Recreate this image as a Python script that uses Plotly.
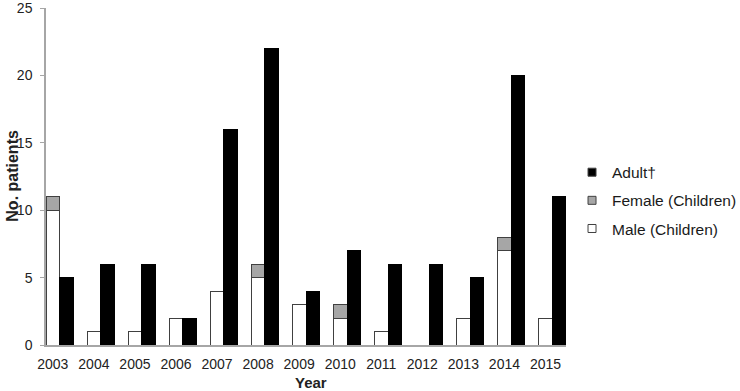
import plotly.graph_objects as go

years = ["2003", "2004", "2005", "2006", "2007", "2008", "2009", "2010", "2011", "2012", "2013", "2014", "2015"]
male_children = [10, 1, 1, 2, 4, 5, 3, 2, 1, 0, 2, 7, 2]
female_children = [1, 0, 0, 0, 0, 1, 0, 1, 0, 0, 0, 1, 0]
adult = [5, 6, 6, 2, 16, 22, 4, 7, 6, 6, 5, 20, 11]
y_ticks = [0, 5, 10, 15, 20, 25]

FONT = "Liberation Sans, Arial, sans-serif"
BW = 1 / 3
idx = list(range(len(years)))
idx_adult = [i + BW for i in idx]

GRAY = "#a6a6a6"
fig = go.Figure()
fig.add_trace(go.Bar(x=idx, y=male_children, width=BW, name="Male (Children)",
                     marker=dict(color="white", line=dict(color="#404040", width=1)),
                     showlegend=False))
fig.add_trace(go.Bar(x=idx, y=female_children, width=BW, name="Female (Children)",
                     marker=dict(color=GRAY, line=dict(color="#404040", width=1)),
                     showlegend=False))
fig.add_trace(go.Bar(x=idx_adult, y=adult, width=BW, name="Adult\u2020",
                     marker=dict(color="black", line=dict(color="black", width=1)),
                     showlegend=False))

# legend entries
for nm, col, g in [("Adult\u2020", "black", "a"), ("Female (Children)", GRAY, "b"), ("Male (Children)", "white", "c")]:
    fig.add_trace(go.Scatter(x=[None], y=[None], mode="markers", name=nm, legendgroup=g,
                             marker=dict(symbol="square", size=8, color=col,
                                         line=dict(color="#404040", width=1))))

fig.update_layout(
    barmode="stack",
    width=740, height=391,
    margin=dict(l=46, r=174, t=8, b=46, autoexpand=False),
    paper_bgcolor="white", plot_bgcolor="white",
    font=dict(family=FONT, size=14, color="#222222"),
    legend=dict(xref="container", yref="container", x=0.773, y=0.602,
                xanchor="left", yanchor="top",
                traceorder="grouped", tracegroupgap=5, itemwidth=30,
                font=dict(size=15.5, color="#1a1a1a")),
    xaxis=dict(range=[-1 / 6, 12.5], tickvals=idx, ticktext=years, showline=True,
               linecolor="#a6a6a6", linewidth=1.5, showgrid=False, zeroline=False,
               ticks="", ticklabelstandoff=5, tickfont=dict(size=14)),
    yaxis=dict(range=[0, 25], tickmode="array", tickvals=y_ticks, showline=True,
               linecolor="#a6a6a6", linewidth=1.5, ticklabeloverflow="allow",
               showgrid=False, zeroline=False, ticks="outside", ticklen=4,
               tickcolor="#a6a6a6", tickwidth=1, ticklabelstandoff=5,
               tickfont=dict(size=14)),
    annotations=[
        dict(text="<b>Year</b>", x=0.51, y=-0.112, xref="paper", yref="paper",
             xanchor="center", yanchor="middle", showarrow=False, font=dict(size=15)),
        dict(text="<b>No. patients</b>", x=-0.065, y=0.503, xref="paper", yref="paper",
             xanchor="center", yanchor="middle", showarrow=False, textangle=-90,
             font=dict(size=16)),
    ],
)

fig.write_html("out.html", config={"displayModeBar": False},
               post_script="document.body.style.margin='0';document.body.style.overflow='hidden';")
